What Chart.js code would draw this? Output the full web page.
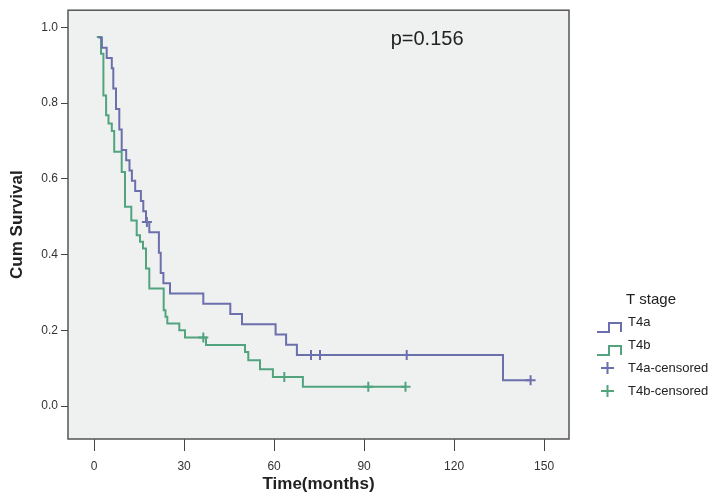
<!DOCTYPE html>
<html>
<head>
<meta charset="utf-8">
<script src="https://cdn.jsdelivr.net/npm/chart.js@4.4.1/dist/chart.umd.min.js"></script>
<style>
  html, body { margin: 0; padding: 0; background: #fff; }
</style>
</head>
<body>
<canvas id="km" width="717" height="497"></canvas>
<script>
// Kaplan-Meier steps: time (months) and survival after that time
const t4aTime = [1.4, 2.6, 4.2, 5.9, 6.4, 7.3, 8.4, 9.2, 10.7, 11.8, 12.6, 13.7, 15.6, 16.4, 17.3, 18.4,
                 21.6, 22.2, 23.1, 25.3, 36.4, 45.4, 49.3, 60.5, 64.0, 67.6, 136.3, 145.5];
const t4aSurv = [0.973, 0.946, 0.919, 0.892, 0.838, 0.784, 0.730, 0.676, 0.649, 0.622, 0.595, 0.568, 0.541, 0.514, 0.486, 0.459,
                 0.405, 0.351, 0.324, 0.297, 0.270, 0.243, 0.216, 0.189, 0.162, 0.135, 0.068, 0.068];
const t4bTime = [0.9, 2.3, 3.1, 4.0, 4.8, 5.9, 6.7, 9.2, 10.3, 12.4, 14.2, 15.3, 16.3, 17.3, 18.4,
                 23.2, 23.8, 24.4, 28.4, 30.3, 37.3, 50.3, 51.4, 55.3, 59.6, 69.6, 103.8];
const t4bSurv = [0.974, 0.930, 0.820, 0.768, 0.746, 0.726, 0.671, 0.618, 0.526, 0.490, 0.451, 0.434, 0.416, 0.363, 0.310,
                 0.253, 0.236, 0.218, 0.200, 0.181, 0.161, 0.143, 0.121, 0.097, 0.077, 0.051, 0.051];

// censored observations
const t4aCensTime = [17.6, 72.3, 75.3, 104.2, 145.5];
const t4aCensSurv = [0.486, 0.135, 0.135, 0.135, 0.068];
const t4bCensTime = [36.4, 63.4, 91.4, 103.8];
const t4bCensSurv = [0.181, 0.077, 0.051, 0.051];

const xTicks = [0, 30, 60, 90, 120, 150];
const yTicks = [0, 0.2, 0.4, 0.6, 0.8, 1.0];

const blue = '#6b6fab';
const green = '#52a47f';

const pts = (xs, ys) => xs.map((x, i) => ({ x: x, y: ys[i] }));

const framePlugin = {
  id: 'framePlugin',
  beforeDraw(chart) {
    const { ctx, chartArea: a } = chart;
    ctx.save();
    ctx.fillStyle = '#eff0f0';
    ctx.fillRect(a.left, a.top, a.right - a.left, a.bottom - a.top);
    ctx.restore();
  },
  afterDraw(chart) {
    const { ctx, chartArea: a, scales } = chart;
    ctx.save();
    ctx.strokeStyle = '#555';
    ctx.lineWidth = 1.5;
    ctx.strokeRect(a.left, a.top, a.right - a.left, a.bottom - a.top);

    // p value
    ctx.fillStyle = '#222';
    ctx.font = '20px "Liberation Sans", Arial, sans-serif';
    ctx.textAlign = 'center';
    ctx.textBaseline = 'middle';
    ctx.fillText('p=0.156', scales.x.getPixelForValue(111), scales.y.getPixelForValue(0.968));

    // legend
    ctx.textAlign = 'left';
    ctx.font = '15px "Liberation Sans", Arial, sans-serif';
    ctx.fillText('T stage', 626, 300);
    ctx.font = '13px "Liberation Sans", Arial, sans-serif';
    const items = [
      { label: 'T4a', color: blue, step: true, y: 322 },
      { label: 'T4b', color: green, step: true, y: 345 },
      { label: 'T4a-censored', color: blue, step: false, y: 368 },
      { label: 'T4b-censored', color: green, step: false, y: 391 }
    ];
    items.forEach(it => {
      ctx.strokeStyle = it.color;
      ctx.lineWidth = 2;
      ctx.beginPath();
      if (it.step) {
        ctx.moveTo(597, it.y + 10);
        ctx.lineTo(609, it.y + 10);
        ctx.lineTo(609, it.y + 1);
        ctx.lineTo(621, it.y + 1);
        ctx.lineTo(621, it.y + 10);
      } else {
        ctx.moveTo(601, it.y);
        ctx.lineTo(614, it.y);
        ctx.moveTo(607.5, it.y - 6);
        ctx.lineTo(607.5, it.y + 6);
      }
      ctx.stroke();
      ctx.fillStyle = '#222';
      ctx.fillText(it.label, 628, it.y);
    });
    ctx.restore();
  }
};

new Chart(document.getElementById('km'), {
  data: {
    datasets: [
      { type: 'line', label: 'T4a', data: pts(t4aTime, t4aSurv), borderColor: blue, borderWidth: 2,
        stepped: true, pointRadius: 0, fill: false },
      { type: 'line', label: 'T4b', data: pts(t4bTime, t4bSurv), borderColor: green, borderWidth: 2,
        stepped: true, pointRadius: 0, fill: false },
      { type: 'scatter', label: 'T4a-censored', data: pts(t4aCensTime, t4aCensSurv), borderColor: blue,
        backgroundColor: blue, pointStyle: 'cross', pointRadius: 5, borderWidth: 2 },
      { type: 'scatter', label: 'T4b-censored', data: pts(t4bCensTime, t4bCensSurv), borderColor: green,
        backgroundColor: green, pointStyle: 'cross', pointRadius: 5, borderWidth: 2 }
    ]
  },
  options: {
    responsive: false,
    animation: false,
    devicePixelRatio: 1,
    layout: { padding: { top: 10, right: 148, left: 0, bottom: 0 } },
    plugins: { legend: { display: false }, tooltip: { enabled: false } },
    scales: {
      x: {
        type: 'linear', min: -8.7, max: 158.3,
        afterBuildTicks: s => { s.ticks = xTicks.map(v => ({ value: v })); },
        afterFit: s => { s.height = 58; },
        grid: { drawOnChartArea: false, drawTicks: true, tickLength: 12, color: '#444' },
        border: { display: false },
        ticks: { padding: 8, color: '#333', font: { family: '"Liberation Sans", Arial', size: 12 } },
        title: { display: true, text: 'Time(months)', color: '#222',
                 font: { family: '"Liberation Sans", Arial', size: 17, weight: 'bold' },
                 padding: { top: 0, bottom: 2 } }
      },
      y: {
        type: 'linear', min: -0.087, max: 1.045,
        afterBuildTicks: s => { s.ticks = yTicks.map(v => ({ value: v })); },
        afterFit: s => { s.width = 68; },
        grid: { drawOnChartArea: false, drawTicks: true, tickLength: 7, color: '#444' },
        border: { display: false },
        ticks: { padding: 3, color: '#333', font: { family: '"Liberation Sans", Arial', size: 12 },
                 callback: v => v.toFixed(1) },
        title: { display: true, text: 'Cum Survival', color: '#222',
                 font: { family: '"Liberation Sans", Arial', size: 17, weight: 'bold' },
                 padding: { top: 7, bottom: 0 } }
      }
    }
  },
  plugins: [framePlugin]
});
</script>
</body>
</html>
